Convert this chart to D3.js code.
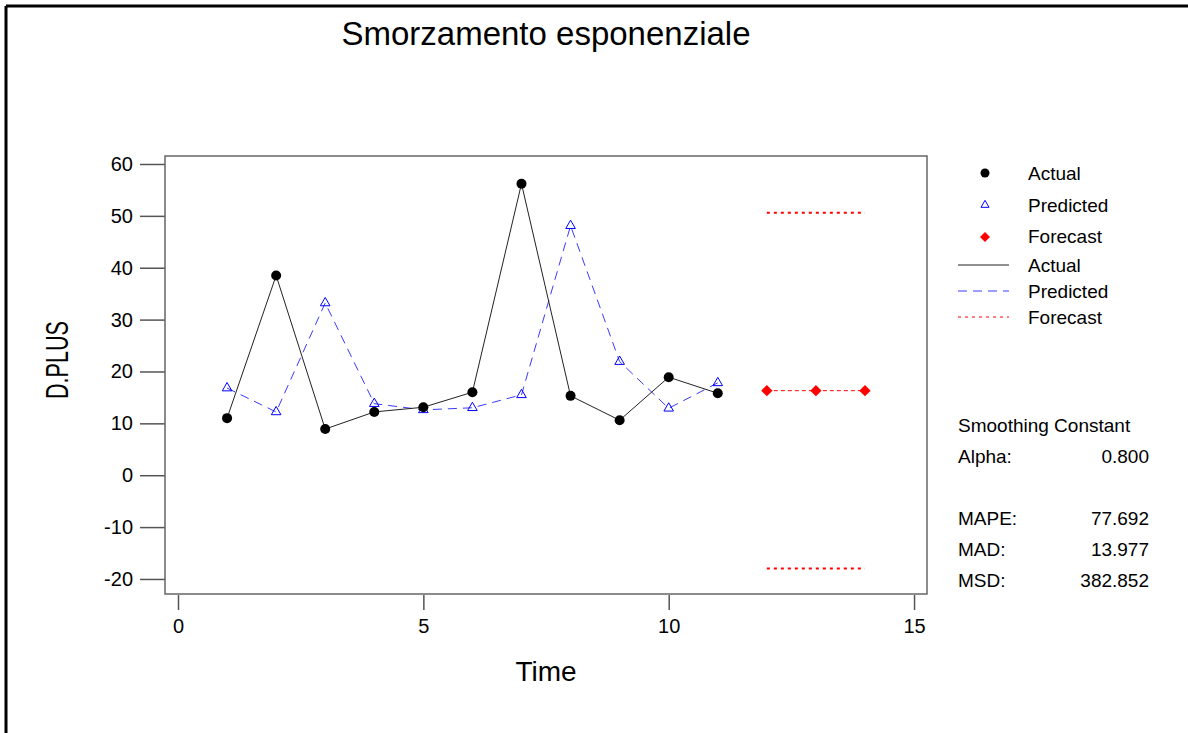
<!DOCTYPE html>
<html>
<head>
<meta charset="utf-8">
<script src="https://cdn.jsdelivr.net/npm/d3@7"></script>
<style>
  body { margin: 0; background: #fff; }
  text { font-family: Arial, "Liberation Sans", sans-serif; fill: #000; }
</style>
</head>
<body>
<div id="chart"></div>
<script>
const time = [1, 2, 3, 4, 5, 6, 7, 8, 9, 10, 11];
const actual = [11.0, 38.5, 8.9, 12.2, 13.1, 16.0, 56.2, 15.3, 10.6, 18.9, 15.8];
const predicted = [16.8, 12.2, 33.2, 13.8, 12.6, 13.0, 15.5, 48.1, 21.9, 12.9, 17.8];
const forecastTime = [12, 13, 14];
const forecast = [16.3, 16.3, 16.3];
const upper = [50.6, 50.6, 50.6];
const lower = [-18.0, -18.0, -18.0];
const xTicks = [0, 5, 10, 15];
const yTicks = [-20, -10, 0, 10, 20, 30, 40, 50, 60];
const stats = [
  { label: "Alpha:", value: "0.800" },
  { label: "MAPE:", value: "77.692" },
  { label: "MAD:", value: "13.977" },
  { label: "MSD:", value: "382.852" }
];

const W = 1188, H = 733;
const box = { left: 165, right: 927, top: 156, bottom: 594 };

const svg = d3.select("#chart").append("svg")
  .attr("width", W)
  .attr("height", H);

// outer frame (top and left only are visible)
svg.append("line").attr("x1", 6).attr("x2", W).attr("y1", 6).attr("y2", 6)
  .attr("stroke", "#000").attr("stroke-width", 3);
svg.append("line").attr("x1", 6).attr("x2", 6).attr("y1", 6).attr("y2", H)
  .attr("stroke", "#000").attr("stroke-width", 3);

const x = d3.scaleLinear().domain([-0.265, 15.264]).range([box.left, box.right]);
const y = d3.scaleLinear().domain([-22.9, 61.54]).range([box.bottom, box.top]);

// y axis ticks (plain hyphen for negatives)
const yAxis = svg.append("g")
  .attr("transform", `translate(${box.left},0)`)
  .call(d3.axisLeft(y).tickValues(yTicks).tickSize(25).tickPadding(7).tickFormat(d => String(d)));
yAxis.select(".domain").remove();
yAxis.selectAll("line").attr("stroke", "#555").attr("stroke-width", 1.5);
yAxis.selectAll("text").style("font-size", "20px").style("font-family", "Arial, 'Liberation Sans', sans-serif");

// x axis ticks
const xAxis = svg.append("g")
  .attr("transform", `translate(0,${box.bottom + 1})`)
  .call(d3.axisBottom(x).tickValues(xTicks).tickSize(15).tickPadding(9).tickFormat(d => String(d)));
xAxis.select(".domain").remove();
xAxis.selectAll("line").attr("stroke", "#555").attr("stroke-width", 1.5);
xAxis.selectAll("text").style("font-size", "20px").style("font-family", "Arial, 'Liberation Sans', sans-serif");

// plot box
svg.append("rect")
  .attr("x", box.left).attr("y", box.top)
  .attr("width", box.right - box.left).attr("height", box.bottom - box.top)
  .attr("fill", "none").attr("stroke", "#666").attr("stroke-width", 1.5);

// titles
svg.append("text").attr("x", 546).attr("y", 45).attr("text-anchor", "middle")
  .style("font-size", "33px").text("Smorzamento esponenziale");
svg.append("text").attr("x", 546).attr("y", 681).attr("text-anchor", "middle")
  .style("font-size", "28px").text("Time");
svg.append("text").attr("transform", "translate(68,360) rotate(-90)").attr("text-anchor", "middle")
  .attr("textLength", 78).attr("lengthAdjust", "spacingAndGlyphs")
  .style("font-size", "31px").text("D.PLUS");

const actualPts = time.map((t, i) => ({ t, v: actual[i] }));
const predPts = time.map((t, i) => ({ t, v: predicted[i] }));
const fcPts = forecastTime.map((t, i) => ({ t, v: forecast[i] }));
const upPts = forecastTime.map((t, i) => ({ t, v: upper[i] }));
const loPts = forecastTime.map((t, i) => ({ t, v: lower[i] }));

const line = d3.line().x(d => x(d.t)).y(d => y(d.v));

// bounds
[upPts, loPts].forEach(pts => {
  svg.append("path").attr("d", line(pts)).attr("fill", "none")
    .attr("stroke", "#ff0000").attr("stroke-width", 2).attr("stroke-dasharray", "3,4");
});

// predicted line
svg.append("path").attr("d", line(predPts)).attr("fill", "none")
  .attr("stroke", "#3a3aff").attr("stroke-width", 1).attr("stroke-dasharray", "9,6");

// actual line
svg.append("path").attr("d", line(actualPts)).attr("fill", "none")
  .attr("stroke", "#222").attr("stroke-width", 1);

// forecast line
svg.append("path").attr("d", line(fcPts)).attr("fill", "none")
  .attr("stroke", "#ff0000").attr("stroke-width", 1).attr("stroke-dasharray", "4,3");

const tri = d3.symbol().type(d3.symbolTriangle).size(40);
const diamond = d3.symbol().type(d3.symbolSquare).size(64);

svg.selectAll(".pred").data(predPts).enter().append("path")
  .attr("class", "pred")
  .attr("d", tri)
  .attr("transform", d => `translate(${x(d.t)},${y(d.v)})`)
  .attr("fill", "none").attr("stroke", "#0000ff").attr("stroke-width", 1);

svg.selectAll(".act").data(actualPts).enter().append("circle")
  .attr("class", "act")
  .attr("cx", d => x(d.t)).attr("cy", d => y(d.v)).attr("r", 5)
  .attr("fill", "#000");

svg.selectAll(".fc").data(fcPts).enter().append("path")
  .attr("class", "fc")
  .attr("d", diamond)
  .attr("transform", d => `translate(${x(d.t)},${y(d.v)}) rotate(45)`)
  .attr("fill", "#ff0000");

// legend
const legX = 985, legTextX = 1028;
const leg = svg.append("g");
leg.append("circle").attr("cx", legX).attr("cy", 173).attr("r", 4.5).attr("fill", "#000");
leg.append("path").attr("d", d3.symbol().type(d3.symbolTriangle).size(28))
  .attr("transform", `translate(${legX},205)`)
  .attr("fill", "none").attr("stroke", "#0000ff").attr("stroke-width", 1);
leg.append("path").attr("d", d3.symbol().type(d3.symbolSquare).size(50))
  .attr("transform", `translate(${legX},237) rotate(45)`).attr("fill", "#ff0000");
const legItems = [
  { label: "Actual", y: 180 },
  { label: "Predicted", y: 212 },
  { label: "Forecast", y: 243 },
  { label: "Actual", y: 272, stroke: "#222", dash: null, w: 1 },
  { label: "Predicted", y: 298, stroke: "#3a3aff", dash: "9,6", w: 1 },
  { label: "Forecast", y: 324, stroke: "#ff0000", dash: "3,4", w: 1 }
];
legItems.forEach(d => {
  leg.append("text").attr("x", legTextX).attr("y", d.y).style("font-size", "19px").text(d.label);
  if (d.stroke) {
    leg.append("line").attr("x1", 958).attr("x2", 1009).attr("y1", d.y - 7).attr("y2", d.y - 7)
      .attr("stroke", d.stroke).attr("stroke-width", d.w)
      .attr("stroke-dasharray", d.dash);
  }
});

// statistics
svg.append("text").attr("x", 958).attr("y", 432).style("font-size", "19px").text("Smoothing Constant");
const statY = [463, 525, 556, 587];
stats.forEach((s, i) => {
  svg.append("text").attr("x", 958).attr("y", statY[i]).style("font-size", "19px").text(s.label);
  svg.append("text").attr("x", 1149).attr("y", statY[i]).attr("text-anchor", "end")
    .style("font-size", "19px").text(s.value);
});
</script>
</body>
</html>
